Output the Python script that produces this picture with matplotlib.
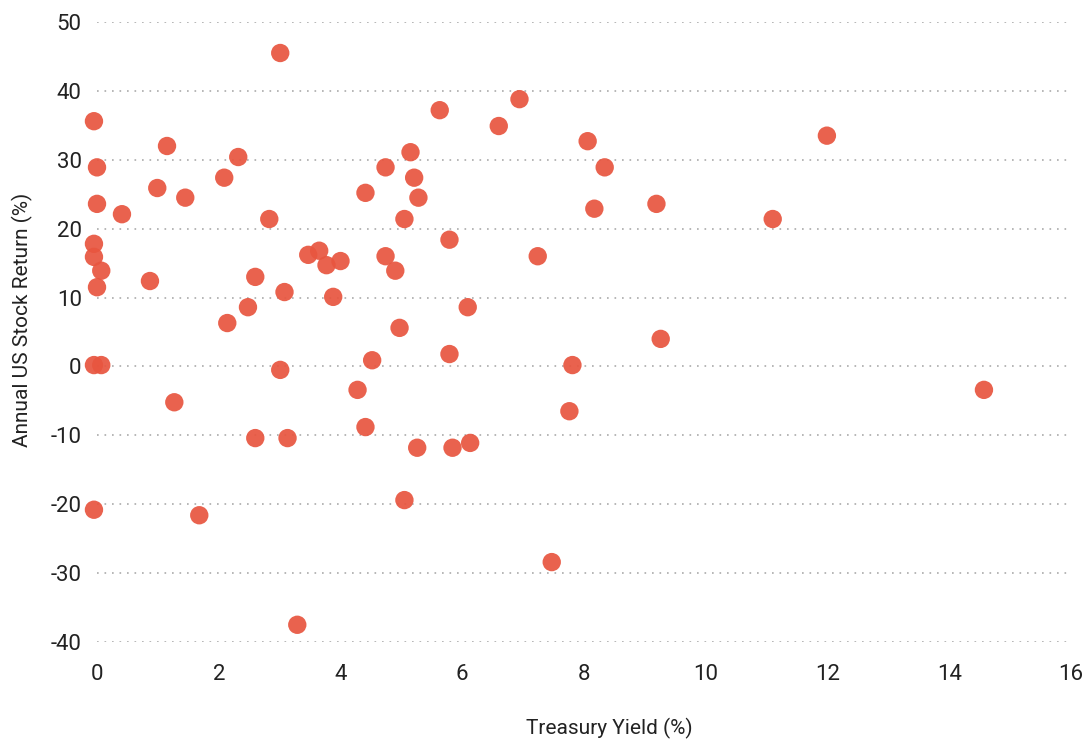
import matplotlib
matplotlib.use("Agg")
import matplotlib.pyplot as plt

treasury_yield = [
    -0.05, 0.0, 0.0, -0.05, -0.05, 0.07, 0.0, -0.05, 0.07, -0.05,
    0.41, 0.87, 0.99, 1.15, 1.27, 1.45, 1.68, 2.09, 2.14, 2.32,
    2.48, 2.60, 2.60, 2.83, 3.01, 3.01, 3.08, 3.13, 3.29, 3.47,
    3.65, 3.77, 3.88, 4.00, 4.28, 4.41, 4.41, 4.52, 4.74, 4.74,
    4.90, 4.97, 5.05, 5.05, 5.15, 5.21, 5.28, 5.26, 5.63, 5.79,
    5.79, 5.84, 6.09, 6.13, 6.60, 6.94, 7.24, 7.47, 7.76, 7.81,
    8.06, 8.17, 8.34, 9.19, 9.26, 11.10, 11.99, 14.57,
]
stock_return = [
    35.6, 28.9, 23.6, 17.8, 15.9, 13.9, 11.5, 0.2, 0.2, -20.8,
    22.1, 12.4, 25.9, 32.0, -5.2, 24.5, -21.6, 27.4, 6.3, 30.4,
    8.6, 13.0, -10.4, 21.4, 45.5, -0.5, 10.8, -10.4, -37.5, 16.2,
    16.8, 14.7, 10.1, 15.3, -3.4, 25.2, -8.8, 0.9, 28.9, 16.0,
    13.9, 5.6, 21.4, -19.4, 31.1, 27.4, 24.5, -11.8, 37.2, 18.4,
    1.8, -11.8, 8.6, -11.1, 34.9, 38.8, 16.0, -28.4, -6.5, 0.2,
    32.7, 22.9, 28.9, 23.6, 4.0, 21.4, 33.5, -3.4,
]
x_ticks = [0, 2, 4, 6, 8, 10, 12, 14, 16]
y_ticks = [-40, -30, -20, -10, 0, 10, 20, 30, 40, 50]

plt.rcParams['font.family'] = ['Roboto', 'DejaVu Sans']

fig = plt.figure(figsize=(10.89, 7.43), dpi=100)
ax = fig.add_axes([97/1089, 1 - 642/743, (1071-97)/1089, (642-22)/743])

ax.scatter(treasury_yield, stock_return, s=175, color='#E8553F', alpha=0.92,
           edgecolors='none', zorder=3, clip_on=False)

ax.set_xlim(0, 16)
ax.set_ylim(-40, 50)
ax.set_xticks(x_ticks)
ax.set_yticks(y_ticks)
ax.set_yticklabels([str(v) for v in y_ticks])

for s in ax.spines.values():
    s.set_visible(False)
ax.tick_params(axis='both', length=0, labelsize=16, colors='#222222')
ax.tick_params(axis='x', pad=16)
ax.tick_params(axis='y', pad=11)

ax.grid(axis='y', color='#AAAAAA', linestyle=(0, (1, 3.5)), linewidth=1.2, zorder=0)
ax.grid(axis='x', visible=False)
ax.set_axisbelow(True)

ax.set_xlabel('Treasury Yield (%)', fontsize=15, color='#222222')
ax.set_ylabel('Annual US Stock Return (%)', fontsize=15, color='#222222')
ax.xaxis.set_label_coords(0.526, -0.122)
ax.yaxis.set_label_coords(-0.066, 0.519)

fig.savefig('out.png', dpi=100, facecolor='white')
